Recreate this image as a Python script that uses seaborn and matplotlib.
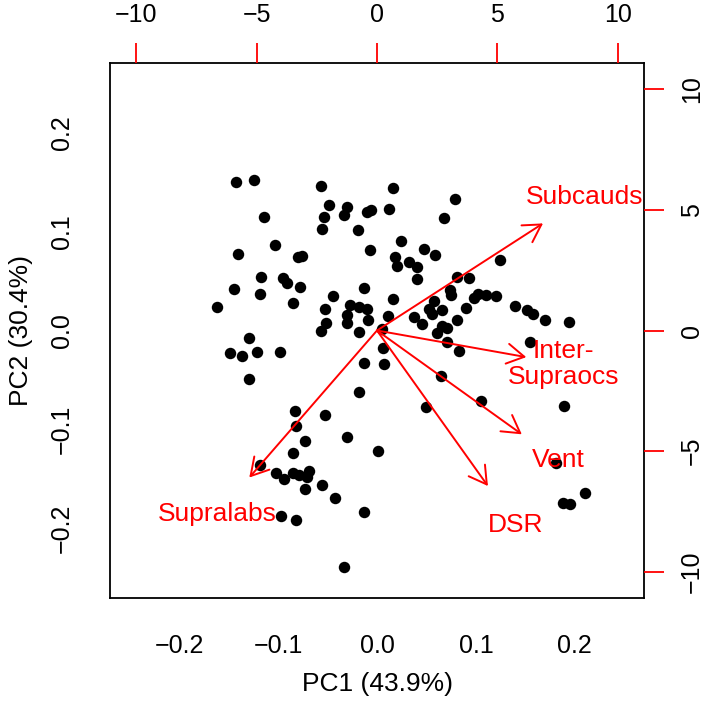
import matplotlib
matplotlib.use("Agg")
import matplotlib.pyplot as plt
import numpy as np
import pandas as pd
import seaborn as sns
from matplotlib.patches import ArrowStyle

sns.set_theme(style="white")
plt.rcParams["font.family"] = ["Liberation Sans", "DejaVu Sans"]
plt.rcParams["text.color"] = "black"
plt.rcParams["axes.labelcolor"] = "black"

# ---------------------------------------------------------------------------
# PCA scores (PC1, PC2)
# ---------------------------------------------------------------------------
pc1 = [
    -0.1424, -0.1245, -0.0563, -0.0488, -0.0300, -0.0330, -0.0532, -0.0104, -0.0064, -0.1138,
    -0.0553, -0.0189, -0.1033, -0.1404, -0.0798, -0.0758, -0.0071, -0.1169, -0.0949, -0.0909,
    -0.0778, -0.1444, -0.1182, -0.0845, -0.0134, -0.0444, -0.1616, -0.0528, -0.0273, -0.0182,
    -0.0104, -0.0306, -0.0306, -0.0088, -0.0518, -0.0563, -0.0185, -0.1293, -0.1482, -0.1364,
    -0.1215, -0.0980, 0.0165, 0.0785, 0.0118, 0.0674, 0.0239, 0.0475, 0.0586, 0.0179,
    0.0202, 0.0326, 0.0401, 0.0401, 0.1245, 0.0805, 0.0932, 0.0737, 0.0751, 0.0579,
    0.0522, 0.0553, 0.0657, 0.0983, 0.1020, 0.1098, 0.1202, 0.0899, 0.1394, 0.1512,
    0.1576, 0.1697, 0.1942, 0.0159, 0.0108, 0.0371, 0.0455, 0.0811, 0.0657, 0.0707,
    0.0603, 0.1545, 0.0058, 0.0710, 0.0825, 0.0047, -0.1290, -0.0128, -0.0185, -0.0825,
    -0.0815, -0.0525, -0.0303, -0.0730, -0.0845, 0.0010, -0.1182, -0.1017, -0.0936, -0.0852,
    -0.0791, -0.0704, -0.0687, -0.0730, -0.0559, -0.0421, -0.0128, -0.0967, -0.0818, -0.0333,
    0.0068, 0.0649, 0.1051, 0.0498, 0.1892, 0.1815, 0.2101, 0.1876, 0.1953,
]
pc2 = [
    0.1495, 0.1519, 0.1455, 0.1263, 0.1250, 0.1169, 0.1142, 0.1197, 0.1217, 0.1146,
    0.1025, 0.1011, 0.0864, 0.0769, 0.0743, 0.0756, 0.0817, 0.0544, 0.0534, 0.0481,
    0.0444, 0.0416, 0.0366, 0.0282, 0.0430, 0.0350, 0.0242, 0.0215, 0.0255, 0.0242,
    0.0215, 0.0154, 0.0074, 0.0101, 0.0078, 0.0000, -0.0013, -0.0074, -0.0229, -0.0259,
    -0.0222, -0.0215, 0.1439, 0.1331, 0.1230, 0.1136, 0.0907, 0.0824, 0.0766, 0.0739,
    0.0648, 0.0693, 0.0642, 0.0521, 0.0716, 0.0537, 0.0531, 0.0406, 0.0363, 0.0295,
    0.0219, 0.0171, 0.0205, 0.0333, 0.0373, 0.0360, 0.0350, 0.0225, 0.0245, 0.0209,
    0.0168, 0.0111, 0.0081, 0.0320, 0.0144, 0.0138, 0.0064, 0.0108, 0.0043, 0.0027,
    -0.0023, -0.0114, -0.0174, -0.0118, -0.0205, 0.0017, -0.0491, -0.0330, -0.0622, -0.0814,
    -0.0961, -0.0857, -0.1079, -0.1112, -0.1233, -0.1217, -0.1361, -0.1442, -0.1502, -0.1439,
    -0.1462, -0.1479, -0.1421, -0.1596, -0.1559, -0.1694, -0.1828, -0.1872, -0.1912, -0.2386,
    -0.0336, -0.0464, -0.0713, -0.0773, -0.0763, -0.1334, -0.1636, -0.1744, -0.1754,
]

# variable loadings (label positions, top/right axis units)
var_names = ["Subcauds", "Inter-\nSupraocs", "Vent", "DSR", "Supralabs"]
load_x = [8.62, 7.75, 7.52, 5.76, -6.63]
load_y = [5.55, -1.38, -5.38, -8.06, -7.62]

score_ticks = [-0.2, -0.1, 0.0, 0.1, 0.2]
load_ticks = [-10, -5, 0, 5, 10]
score_lim = 0.27
load_lim = 11.09

scores = pd.DataFrame({"PC1": pc1, "PC2": pc2})

# ---------------------------------------------------------------------------
# PLOT
# ---------------------------------------------------------------------------
fig = plt.figure(figsize=(7.09, 7.06), dpi=100)
pos = [110 / 709, 108 / 706, 534 / 709, 535 / 706]
ax = fig.add_axes(pos)

sns.scatterplot(data=scores, x="PC1", y="PC2", ax=ax, color="black",
                s=68, linewidth=0, zorder=2)

ax.set_xlim(-score_lim, score_lim)
ax.set_ylim(-score_lim, score_lim)
ax.set_xticks(score_ticks)
ax.set_yticks(score_ticks)
ax.set_xticklabels([f"{t:.1f}".replace("-", "\u2212") for t in score_ticks])
ax.set_yticklabels([f"{t:.1f}".replace("-", "\u2212") for t in score_ticks],
                   rotation=90, va="center")
ax.tick_params(axis="both", direction="out", length=14.4, width=1.3,
               color="black", labelcolor="black", labelsize=18, pad=11.5)
ax.set_xlabel("PC1 (43.9%)", fontsize=19, labelpad=10)
ax.set_ylabel("PC2 (30.4%)", fontsize=19, labelpad=12)
for sp in ax.spines.values():
    sp.set_linewidth(1.3)
    sp.set_color("black")

# loadings axes on top / right
ax2 = fig.add_axes(pos, frameon=False)
ax2.set_xlim(-load_lim, load_lim)
ax2.set_ylim(-load_lim, load_lim)
ax2.xaxis.tick_top()
ax2.yaxis.tick_right()
ax2.set_xticks(load_ticks)
ax2.set_yticks(load_ticks)
ax2.set_xticklabels([str(t).replace("-", "\u2212") for t in load_ticks])
ax2.set_yticklabels([str(t).replace("-", "\u2212") for t in load_ticks],
                    rotation=90, va="center")
ax2.tick_params(axis="both", direction="out", length=14.4, width=1.3,
                color="red", labelcolor="black", labelsize=18, pad=11.5)
ax2.grid(False)

head = ArrowStyle("->", head_length=0.62, head_width=0.36)
for name, lx, ly in zip(var_names, load_x, load_y):
    ax2.annotate("", xy=(0.8 * lx, 0.8 * ly), xytext=(0, 0),
                 arrowprops=dict(arrowstyle=head, color="red", lw=1.4,
                                 shrinkA=0, shrinkB=0, mutation_scale=20),
                 zorder=3)
    ax2.text(lx, ly, name, color="red", fontsize=19, ha="center",
             va="center", linespacing=1.1, zorder=4)

fig.savefig("out.png", dpi=100)
